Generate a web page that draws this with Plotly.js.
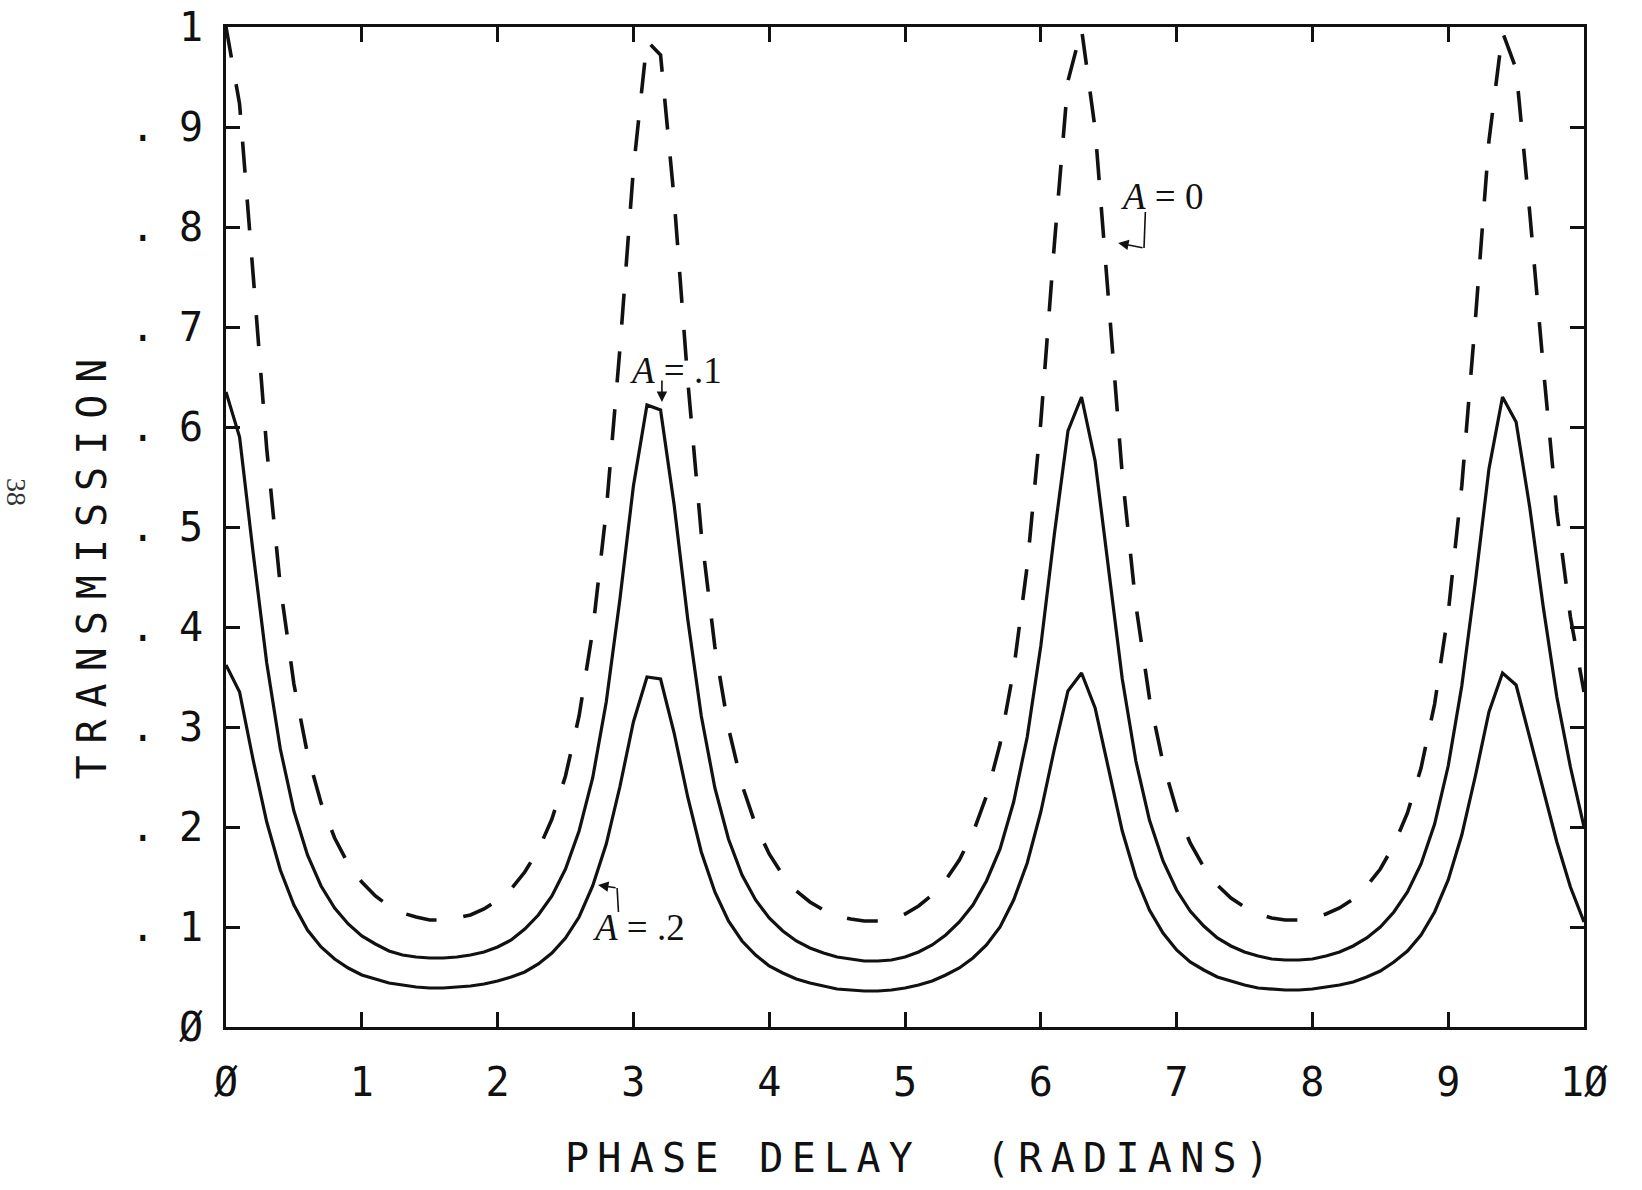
<!DOCTYPE html>
<html>
<head>
<meta charset="utf-8">
<script src="https://cdn.plot.ly/plotly-3.0.1.min.js"></script>
<style>
  html, body { margin: 0; padding: 0; background: #fff; }
  #chart { width: 1642px; height: 1190px; }
  .xtitle { letter-spacing: 8.3px; }
  .ytitle { letter-spacing: 12px; }
</style>
</head>
<body>
<div id="chart"></div>
<script>
// Phase delay samples (radians)
const phaseDelay = [
  0.0,0.1,0.2,0.3,0.4,0.5,0.6,0.7,0.8,0.9,
  1.0,1.1,1.2,1.3,1.4,1.5,1.6,1.7,1.8,1.9,
  2.0,2.1,2.2,2.3,2.4,2.5,2.6,2.7,2.8,2.9,
  3.0,3.1,3.2,3.3,3.4,3.5,3.6,3.7,3.8,3.9,
  4.0,4.1,4.2,4.3,4.4,4.5,4.6,4.7,4.8,4.9,
  5.0,5.1,5.2,5.3,5.4,5.5,5.6,5.7,5.8,5.9,
  6.0,6.1,6.2,6.3,6.4,6.5,6.6,6.7,6.8,6.9,
  7.0,7.1,7.2,7.3,7.4,7.5,7.6,7.7,7.8,7.9,
  8.0,8.1,8.2,8.3,8.4,8.5,8.6,8.7,8.8,8.9,
  9.0,9.1,9.2,9.3,9.4,9.5,9.6,9.7,9.8,9.9,
  10.0
];

// Transmission, A = 0 (dashed)
const transA0 = [
  1.000,0.923,0.752,0.578,0.441,0.343,0.273,0.224,0.189,0.163,
  0.145,0.131,0.121,0.114,0.110,0.107,0.107,0.109,0.112,0.118,
  0.127,0.138,0.155,0.177,0.208,0.251,0.311,0.396,0.516,0.677,
  0.858,0.986,0.972,0.828,0.647,0.493,0.380,0.299,0.242,0.202,
  0.173,0.152,0.136,0.125,0.117,0.111,0.108,0.106,0.106,0.108,
  0.113,0.121,0.132,0.147,0.167,0.194,0.231,0.283,0.357,0.461,
  0.605,0.783,0.946,0.998,0.898,0.721,0.552,0.422,0.329,0.264,
  0.217,0.184,0.160,0.142,0.129,0.120,0.113,0.109,0.107,0.107,
  0.109,0.113,0.119,0.128,0.141,0.158,0.182,0.214,0.259,0.323,
  0.414,0.541,0.707,0.886,0.995,0.958,0.815,0.660,0.515,0.410,
  0.335
];

// Transmission, A = .1 (solid)
const transA1 = [
  0.635,0.590,0.474,0.364,0.278,0.216,0.172,0.141,0.119,0.103,
  0.091,0.083,0.076,0.072,0.070,0.069,0.069,0.070,0.072,0.075,
  0.080,0.087,0.098,0.112,0.131,0.158,0.196,0.249,0.325,0.427,
  0.541,0.622,0.617,0.522,0.408,0.311,0.239,0.188,0.152,0.127,
  0.109,0.096,0.086,0.079,0.074,0.070,0.068,0.066,0.066,0.067,
  0.070,0.075,0.082,0.092,0.105,0.122,0.146,0.178,0.225,0.290,
  0.381,0.493,0.596,0.630,0.566,0.454,0.348,0.266,0.207,0.166,
  0.137,0.116,0.101,0.089,0.081,0.075,0.071,0.068,0.067,0.067,
  0.068,0.071,0.075,0.081,0.089,0.100,0.115,0.135,0.163,0.203,
  0.261,0.341,0.445,0.558,0.630,0.605,0.520,0.420,0.330,0.260,
  0.200
];

// Transmission, A = .2 (solid)
const transA2 = [
  0.362,0.335,0.267,0.205,0.157,0.122,0.097,0.080,0.068,0.059,
  0.052,0.048,0.044,0.042,0.040,0.039,0.039,0.040,0.041,0.043,
  0.046,0.050,0.055,0.063,0.074,0.089,0.110,0.141,0.183,0.240,
  0.305,0.350,0.348,0.294,0.230,0.175,0.135,0.106,0.086,0.072,
  0.061,0.054,0.048,0.044,0.041,0.038,0.037,0.036,0.036,0.037,
  0.039,0.042,0.046,0.052,0.059,0.069,0.082,0.100,0.127,0.164,
  0.215,0.278,0.336,0.354,0.319,0.256,0.196,0.150,0.117,0.094,
  0.077,0.065,0.057,0.050,0.046,0.042,0.039,0.038,0.037,0.037,
  0.038,0.040,0.042,0.045,0.050,0.056,0.065,0.076,0.092,0.115,
  0.147,0.192,0.251,0.315,0.354,0.342,0.290,0.235,0.185,0.140,
  0.105
];

// Tick labels
const xTickVals = [0,1,2,3,4,5,6,7,8,9,10];
const xTickText = ["Ø","1","2","3","4","5","6","7","8","9","1Ø"];
const yTickVals = [0,0.1,0.2,0.3,0.4,0.5,0.6,0.7,0.8,0.9,1];
const yTickText = ["Ø",". 1",". 2",". 3",". 4",". 5",". 6",". 7",". 8",". 9","1"];

const plotterFont = {family: "DejaVu Sans Mono, monospace", size: 40, color: "#111"};
const noteFont = {family: "Liberation Serif, DejaVu Serif, serif", size: 37, color: "#111"};

const traces = [
  {x: phaseDelay, y: transA0, mode: "lines", name: "A = 0",
   line: {color: "#111", width: 3.6, dash: "31px,27px"}},
  {x: phaseDelay, y: transA1, mode: "lines", name: "A = .1",
   line: {color: "#111", width: 3.2}},
  {x: phaseDelay, y: transA2, mode: "lines", name: "A = .2",
   line: {color: "#111", width: 3.2}}
];

const axisCommon = {
  showgrid: false, zeroline: false,
  showline: true, linecolor: "#111", linewidth: 3,
  mirror: "ticks", ticks: "inside", tickcolor: "#111", tickwidth: 3,
  tickfont: plotterFont, fixedrange: true
};

const arrowStyle = {text: "", showarrow: true, arrowhead: 2, arrowsize: 1.3,
                    arrowwidth: 1.6, arrowcolor: "#111", xref: "x", yref: "y",
                    axref: "x", ayref: "y"};

const layout = {
  width: 1642, height: 1190,
  paper_bgcolor: "#fff", plot_bgcolor: "#fff",
  showlegend: false,
  margin: {l: 226, r: 58, t: 27, b: 163},
  xaxis: Object.assign({}, axisCommon, {
    range: [0, 10], tickmode: "array", tickvals: xTickVals, ticktext: xTickText,
    ticklen: 15, ticklabelstandoff: 18,
    title: {text: "&nbsp;PHASE DELAY &nbsp;(RADIANS)", font: plotterFont, standoff: 40}
  }),
  yaxis: Object.assign({}, axisCommon, {
    range: [0, 1], tickmode: "array", tickvals: yTickVals, ticktext: yTickText,
    ticklen: 14, ticklabelstandoff: 12,
    title: {text: "TRANSMISSION&nbsp;&nbsp;", font: plotterFont, standoff: 12}
  }),
  shapes: [
    {type: "line", xref: "x", yref: "y", x0: 6.77, y0: 0.815, x1: 6.76, y1: 0.779,
     line: {color: "#111", width: 1.6}},
    {type: "line", xref: "x", yref: "y", x0: 2.89, y0: 0.115, x1: 2.88, y1: 0.139,
     line: {color: "#111", width: 1.6}}
  ],
  annotations: [
    {x: 6.89, y: 0.831, xref: "x", yref: "y", text: "<i>A</i> = 0", showarrow: false, font: noteFont},
    Object.assign({x: 6.57, y: 0.784, ax: 6.76, ay: 0.779}, arrowStyle),
    {x: 3.31, y: 0.657, xref: "x", yref: "y", text: "<i>A</i> = .1", showarrow: false, font: noteFont},
    Object.assign({x: 3.21, y: 0.625, ax: 3.21, ay: 0.648}, arrowStyle),
    {x: 3.04, y: 0.100, xref: "x", yref: "y", text: "<i>A</i> = .2", showarrow: false, font: noteFont},
    Object.assign({x: 2.74, y: 0.142, ax: 2.88, ay: 0.139}, arrowStyle),
    {xref: "paper", yref: "paper", text: "38", showarrow: false, xanchor: "center", yanchor: "middle",
     textangle: 90, font: {family: "Liberation Serif, serif", size: 28, color: "#333"}}
  ]
};
// page number placed at pixel (16, 492) expressed as paper fraction
layout.annotations[6].x = (16 - 226) / (1642 - 226 - 58);
layout.annotations[6].y = (1190 - 163 - 492) / (1190 - 163 - 27);

Plotly.newPlot("chart", traces, layout, {displayModeBar: false, staticPlot: true});
</script>
</body>
</html>
